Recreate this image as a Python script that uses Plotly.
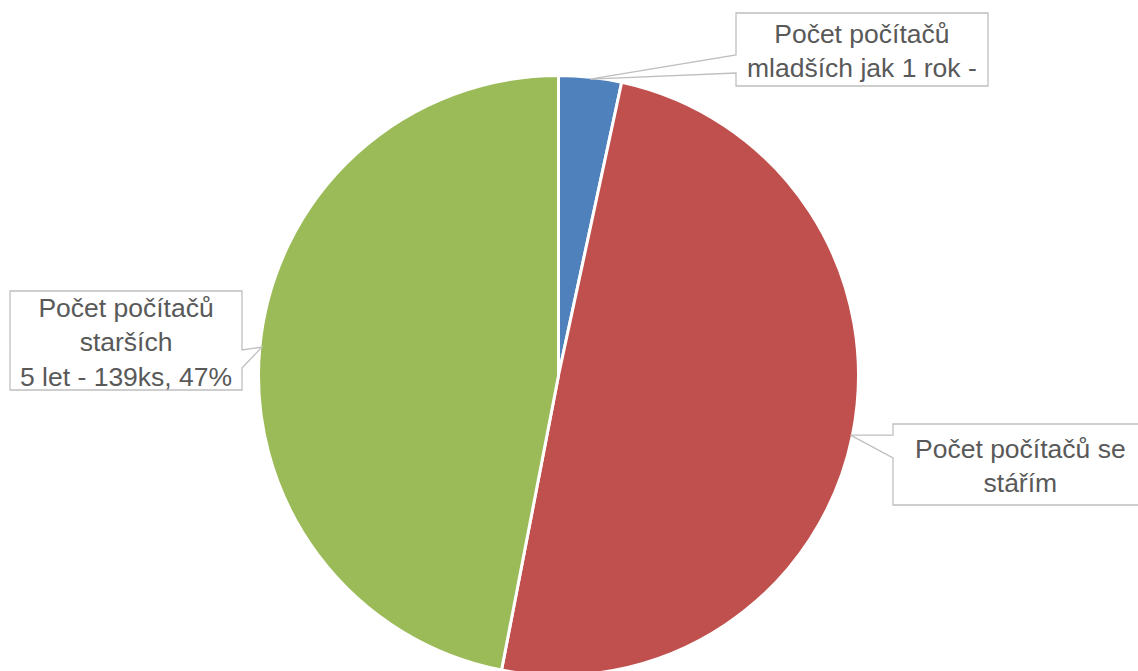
import math
import plotly.graph_objects as go

labels = ["Počet počítačů mladších jak 1 rok", "Počet počítačů se stářím", "Počet počítačů starších 5 let"]
values = [10, 147, 139]
colors = ["#4F81BD", "#C0504D", "#9BBB59"]
label_texts = [
    "Počet počítačů<br>mladších jak 1 rok -",
    "Počet počítačů se<br>stářím",
    "Počet počítačů<br>starších<br>5 let - 139ks, 47%",
]

W, H = 1138, 680
CX, CY, R = 558.5, 375.5, 300

fig = go.Figure(go.Pie(
    labels=labels, values=values, sort=False, direction="clockwise", rotation=0,
    marker=dict(colors=colors, line=dict(color="white", width=3)),
    textinfo="none", hoverinfo="skip", showlegend=False,
    domain=dict(x=[(CX - R) / W, (CX + R) / W], y=[(H - CY - R) / H, (H - CY + R) / H]),
))

def px(x, y):
    return x / W, 1 - y / H

# anchor points on slice edges at mid-angles
RA = R - 2
total = sum(values)
anchors = []
cum = 0
for v in values:
    mid = (cum + v / 2) / total * 2 * math.pi
    cum += v
    anchors.append((CX + RA * math.sin(mid), CY - RA * math.cos(mid)))

# boxes: (x0, y0, x1, y1, side, wedge_y0, wedge_y1)
boxes = [
    (736, 13, 988, 86, "left", 55, 73),
    (893, 424, 1150, 505, "left", 435, 458),
    (10, 291, 242, 390, "right", 350, 368),
]
text_centers = [(862, 51), (1020, 466), (126, 342)]

for (x0, y0, x1, y1, side, wy0, wy1), (ax, ay) in zip(boxes, anchors):
    if side == "left":
        pts = [(x0, y0), (x1, y0), (x1, y1), (x0, y1), (x0, wy1), (ax, ay), (x0, wy0)]
    else:
        pts = [(x0, y0), (x1, y0), (x1, wy0), (ax, ay), (x1, wy1), (x1, y1), (x0, y1)]
    path = "M " + " L ".join("%.5f,%.5f" % px(x, y) for x, y in pts) + " Z"
    fig.add_shape(type="path", path=path, xref="paper", yref="paper",
                  fillcolor="white", line=dict(color="#BFBFBF", width=1.3), layer="above")

for t, (tx, ty) in zip(label_texts, text_centers):
    x, y = px(tx, ty)
    fig.add_annotation(x=x, y=y, xref="paper", yref="paper", text=t, showarrow=False,
                       xanchor="center", yanchor="middle", align="center",
                       font=dict(family="Liberation Sans, Arial, sans-serif", size=26.5, color="#595959"))

fig.update_layout(width=W, height=H, margin=dict(l=0, r=0, t=0, b=0),
                  paper_bgcolor="white", plot_bgcolor="white")
fig.write_html("out.html", config={"displayModeBar": False},
               post_script="document.body.style.margin='0';document.body.style.overflow='hidden';document.documentElement.style.overflow='hidden';")
